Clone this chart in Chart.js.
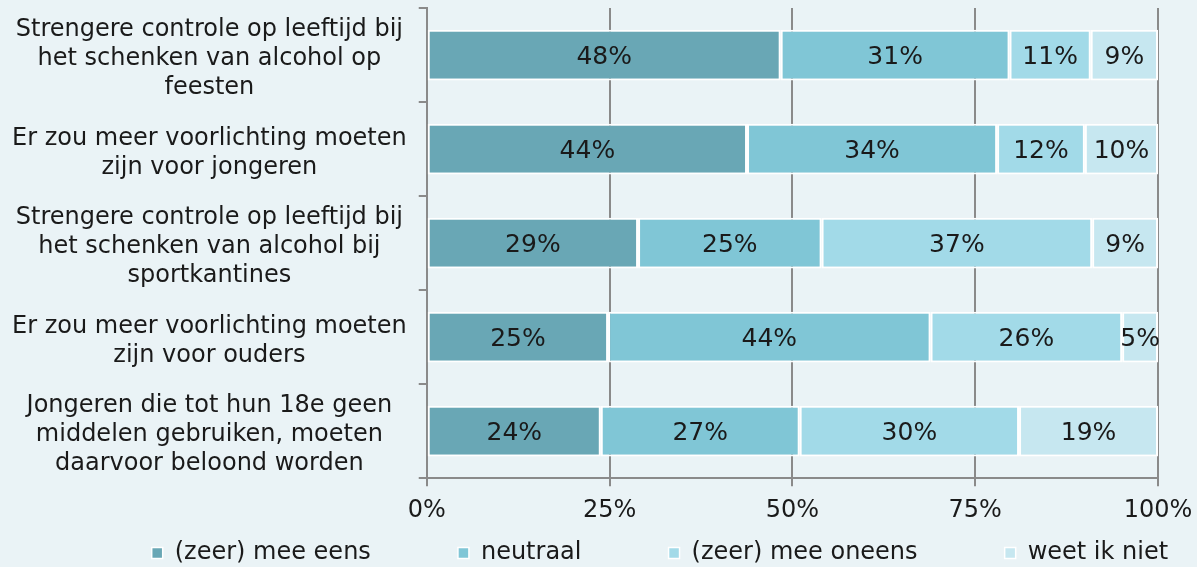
<!DOCTYPE html>
<html><head><meta charset="utf-8">
<script src="https://cdn.jsdelivr.net/npm/chart.js@4/dist/chart.umd.min.js"></script>
<style>html,body{margin:0;padding:0;background:#eaf3f6;}#wrap{width:1197px;height:567px;}</style>
</head><body><div id="wrap"><canvas id="c"></canvas></div>
<script>
const categories = [
  ["Strengere controle op leeftijd bij","het schenken van alcohol op","feesten"],
  ["Er zou meer voorlichting moeten","zijn voor jongeren"],
  ["Strengere controle op leeftijd bij","het schenken van alcohol bij","sportkantines"],
  ["Er zou meer voorlichting moeten","zijn voor ouders"],
  ["Jongeren die tot hun 18e geen","middelen gebruiken, moeten","daarvoor beloond worden"]
];
const seriesNames = ["(zeer) mee eens","neutraal","(zeer) mee oneens","weet ik niet"];
const meeEens   = [48.4, 43.8, 28.9, 24.8, 23.8];
const neutraal  = [31.3, 34.2, 25.1, 44.1, 27.2];
const meeOneens = [11.1, 12.0, 37.0, 26.2, 30.0];
const weetNiet  = [9.2, 10.0, 9.0, 4.9, 19.0];
const xTicks = ["0%","25%","50%","75%","100%"];
const colors = ["#69a7b5","#80c6d6","#a2dae8","#c6e7f0"];

const FONT = "'DejaVu Sans', Verdana, sans-serif";
const NB = "\u00A0";
const labelPlugin = {
  id:'barLabels',
  afterDatasetsDraw(chart){
    const ctx = chart.ctx;
    ctx.save();
    ctx.font = "25px " + FONT;
    ctx.fillStyle = "#1a1a1a";
    ctx.textAlign = "center";
    ctx.textBaseline = "middle";
    chart.data.datasets.forEach((ds,i)=>{
      chart.getDatasetMeta(i).data.forEach((el,j)=>{
        const v = ds.data[j];
        const cx = (el.x + el.base)/2;
        ctx.fillText(Math.round(v)+"%", cx, el.y+2);
      });
    });
    ctx.restore();
  }
};

const datasets = [meeEens, neutraal, meeOneens, weetNiet].map((d,i)=>({
  label: seriesNames[i], data: d, backgroundColor: colors[i],
  borderColor: "#ffffff", borderWidth: 2, borderSkipped: false,
  barPercentage: 0.54, categoryPercentage: 1.0
}));

new Chart(document.getElementById('c'), {
  type:'bar',
  data:{labels:categories, datasets},
  plugins:[labelPlugin],
  options:{
    indexAxis:'y', responsive:true, maintainAspectRatio:false, animation:false,
    layout:{padding:{top:8,right:0,left:0,bottom:-8}},
    plugins:{
      legend:{position:'bottom', align:'end', labels:{font:{family:FONT,size:24}, color:"#1a1a1a", boxWidth:11, boxHeight:11, padding:6,
        generateLabels(chart){
          return chart.data.datasets.map((ds,i)=>({text:ds.label + (i<3 ? NB.repeat(10)+"\u2009" : NB.repeat(3)), fillStyle:ds.backgroundColor, strokeStyle:"#ffffff", lineWidth:1.5, datasetIndex:i, fontColor:"#1a1a1a"}));
        }}},
      tooltip:{enabled:false}
    },
    scales:{
      x:{stacked:true, min:0, max:100,
        afterFit(s){ s.paddingRight = 39; },
        ticks:{stepSize:25, color:"#1a1a1a", font:{family:FONT,size:24}, padding:10,
          callback:(v)=>xTicks[v/25]},
        grid:{color:"#8a8a8a", lineWidth:2, tickLength:8, drawOnChartArea:true},
        border:{color:"#8a8a8a", width:2}
      },
      y:{stacked:true,
        afterFit(s){ s.paddingTop = 0; s.paddingBottom = 0; },
        ticks:{color:"#1a1a1a", font:{family:FONT,size:24, lineHeight:1.21}, crossAlign:'center', padding:12, labelOffset:4},
        grid:{offset:true, drawOnChartArea:false, color:"#8a8a8a", lineWidth:2, tickLength:8},
        border:{color:"#8a8a8a", width:2}
      }
    }
  }
});
</script></body></html>
